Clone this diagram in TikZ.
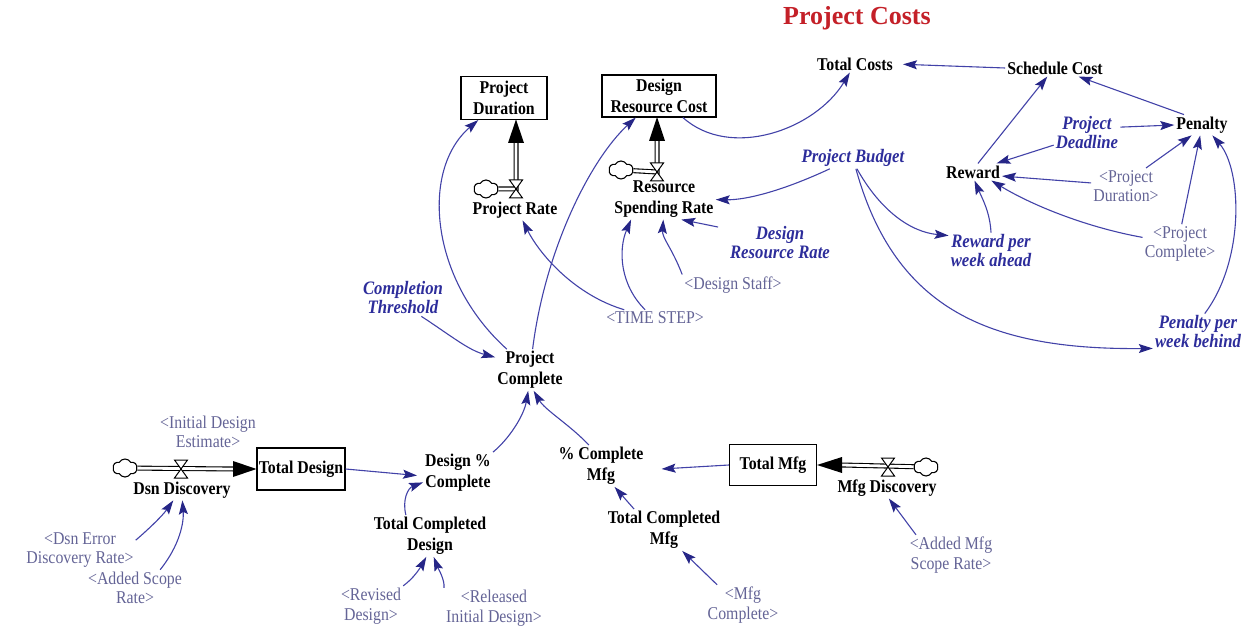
\documentclass[tikz,border=0pt]{standalone}
\usepackage{fontspec}
\setmainfont{Liberation Serif}[FakeStretch=0.88]
\newfontfamily\titlefont{Liberation Serif}
\usetikzlibrary{arrows.meta,shapes.symbols}
\definecolor{linkc}{RGB}{66,66,168}
\definecolor{tipc}{RGB}{38,38,135}
\definecolor{auxc}{RGB}{45,45,155}
\definecolor{shadc}{RGB}{100,100,150}
\definecolor{titlec}{RGB}{196,32,40}
\tikzset{
  valvep/.pic={\filldraw[fill=white,line width=1pt] (-6.5,-9) -- (6.5,-9) -- (-6.5,9) -- (6.5,9) -- cycle;}
}
\begin{document}
\begin{tikzpicture}[x=1pt,y=-1pt,
  var/.style={font=\bfseries\fontsize{18}{21}\selectfont, align=center, inner sep=2pt},
  param/.style={font=\bfseries\itshape\fontsize{19}{19}\selectfont, text=auxc, align=center, inner sep=2pt},
  shad/.style={font=\fontsize{18}{19.5}\selectfont, text=shadc, align=center, inner sep=2pt},
  stock/.style={draw, line width=1.1pt, font=\bfseries\fontsize{18}{21}\selectfont, align=center, minimum width=#1, minimum height=42pt, inner sep=1pt},
  link/.style={draw=linkc, line width=1.1pt, -{Stealth[length=14pt,width=9pt,inset=2.5pt,color=tipc]}},
  pipe/.style={draw=black, double=white, double distance=2.8pt, line width=1.1pt},
  cloudn/.style={cloud, draw, cloud puffs=6, cloud puff arc=120, aspect=1.3, minimum width=24pt, minimum height=18pt, inner sep=0pt, line width=1.1pt},
]
\useasboundingbox (0,0) rectangle (1248,628);

% title
\node[font=\titlefont\bfseries\fontsize{26}{29}\selectfont, text=titlec] (title) at (857,18) {Project Costs};

% stocks
\node[stock=86pt, minimum height=43pt] (pdur) at (504,98) {Project\\Duration};
\node[stock=114pt] (drc) at (659,96) {Design\\Resource Cost};
\node[stock=88pt] (td) at (301,469) {Total Design};
\node[stock=87pt, minimum height=41pt] (tm) at (773,465) {Total Mfg};

% variables
\node[var] (tc) at (855,64) {Total Costs};
\node[var] (sc) at (1055,68) {Schedule Cost};
\node[var] (pen) at (1202,125) {Penalty};
\node[var] (rew) at (973,172) {Reward};
\node[var] (pcomp) at (530,370) {Project\\Complete};
\node[var] (dpc) at (458,473) {Design \%\\Complete};
\node[var] (tcd) at (430,536) {Total Completed\\Design};
\node[var] (pcm) at (601,466) {\% Complete\\Mfg};
\node[var] (tcm) at (664,530) {Total Completed\\Mfg};
\node[var] (dsnd) at (182,490) {Dsn Discovery};
\node[var] (mfgd) at (887,488) {Mfg Discovery};
\node[var] (prate) at (515,210) {Project Rate};
\node[var] (rsr) at (664,199) {Resource\\Spending Rate};

% parameters
\node[param] (pdl) at (1087,133) {Project\\Deadline};
\node[param] (pb) at (853,158) {Project Budget};
\node[param] (rpwa) at (991,251) {Reward per\\week ahead};
\node[param] (ppwb) at (1198,332) {Penalty per\\week behind};
\node[param] (drr) at (780,243) {Design\\Resource Rate};
\node[param] (cth) at (403,298) {Completion\\Threshold};

% shadow variables
\node[shad] (spd) at (1126,186) {<Project\\Duration>};
\node[shad] (spc) at (1180,244) {<Project\\Complete>};
\node[shad] (sds) at (733,285) {<Design Staff>};
\node[shad] (sts) at (655,318) {<TIME STEP>};
\node[shad] (side) at (208,432) {<Initial Design\\Estimate>};
\node[shad] (sder) at (80,550) {<Dsn Error\\Discovery Rate>};
\node[shad] (sasr) at (135,588) {<Added Scope\\Rate>};
\node[shad] (srd) at (371,606) {<Revised\\Design>};
\node[shad] (srid) at (494,608) {<Released\\Initial Design>};
\node[shad] (smc) at (743,605) {<Mfg\\Complete>};
\node[shad] (samsr) at (951,555) {<Added Mfg\\Scope Rate>};

% flows
\node[cloudn] (cl1) at (125,468) {};
\coordinate (v1) at (181,469);
\coordinate (b1) at (233,469);
\draw[pipe] (cl1) -- (b1);
\fill (233,461) -- (td.west) -- (233,477) -- cycle;
\pic at (v1) {valvep};

\node[cloudn] (cl2) at (926,467) {};
\coordinate (v2) at (888,467);
\coordinate (b2) at (842,465);
\draw[pipe] (cl2) -- (b2);
\fill (842,457) -- (tm.east) -- (842,473) -- cycle;
\pic at (v2) {valvep};

\node[cloudn] (cl3) at (486,189) {};
\coordinate (v3) at (516,189);
\coordinate (b3) at (516,143);
\coordinate (t3) at (516,119.5);
\draw[pipe] (cl3) -- (v3) -- (b3);
\fill (508,143) -- (t3) -- (524,143) -- cycle;
\pic at (v3) {valvep};

\node[cloudn] (cl4) at (621,170) {};
\coordinate (v4) at (657,172);
\coordinate (b4) at (657,141);
\coordinate (t4) at (657,117);
\draw[pipe] (cl4) -- (v4) -- (b4);
\fill (649,141) -- (t4) -- (665,141) -- cycle;
\pic at (v4) {valvep};

% links - upper right
\draw[link, shorten >=8pt] (sc.west) -- (tc.east);
\draw[link] (drc) .. controls (730,160) and (815,130) .. (tc);
\draw[link] (rew.60) -- (sc.-132);
\draw[link] (pen.150) -- (sc.-20);
\draw[link] (pdl.10) -- (pen.west);
\draw[link] (pdl.200) -- (rew.20);
\draw[link] (spd.175) -- (rew.-8);
\draw[link] (spd.42) -- (pen.-135);
\draw[link] (spc.170) .. controls (1090,228) and (1035,207) .. (rew.-25);
\draw[link] (spc.85) -- (pen.-100);
\draw[link] (rpwa.north) .. controls (990,212) and (982,198) .. (rew.-80);
\draw[link] (ppwb.70) .. controls (1245,260) and (1242,170) .. (pen.-45);
\draw[link] (pb.-70) .. controls (880,210) and (910,232) .. (rpwa.160);
\draw[link] (pb.-75) .. controls (895,310) and (990,350) .. (ppwb.200);
\draw[link] (pb) .. controls (780,192) and (745,200) .. (rsr);

% links - resource spending / project rate
\draw[link, shorten <=10pt] (drr.165) -- (rsr.-50);
\draw[link] (sds.north west) .. controls (672,248) and (662,238) .. (rsr.-92);
\draw[link] (sts.140) .. controls (620,285) and (618,250) .. (rsr.-148);
\draw[link] (sts.165) .. controls (575,295) and (540,255) .. (prate.-54);

% project complete
\draw[link] (pcomp) .. controls (430,280) and (420,170) .. (pdur);
\draw[link] (pcomp) .. controls (545,250) and (590,160) .. (drc);
\draw[link] (cth.-45) .. controls (450,335) and (468,350) .. (pcomp.160);
\draw[link] (dpc.north east) .. controls (510,438) and (524,415) .. (pcomp.-95);
\draw[link] (pcm.120) .. controls (570,425) and (545,410) .. (pcomp.-80);

% design side
\draw[link, shorten >=6pt] (td.east) -- (dpc.185);
\draw[link] (tcd.139) .. controls (402,500) and (408,488) .. (dpc.195);
\draw[link] (srd.north east) .. controls (414,578) and (420,568) .. (tcd.-100);
\draw[link] (srid.north west) .. controls (445,580) and (438,568) .. (tcd.-80);
\draw[link] (sder.10) .. controls (150,528) and (163,515) .. (dsnd.-130);
\draw[link] (sasr.36) .. controls (180,545) and (184,522) .. (dsnd.-88);

% mfg side
\draw[link, shorten >=16pt] (tm.west) -- (pcm.-5);
\draw[link] (tcm.145) -- (pcm.-57);
\draw[link] (smc.142) -- (tcm.-49);
\draw[link] (samsr.150) -- (mfgd.-80);
\end{tikzpicture}
\end{document}
